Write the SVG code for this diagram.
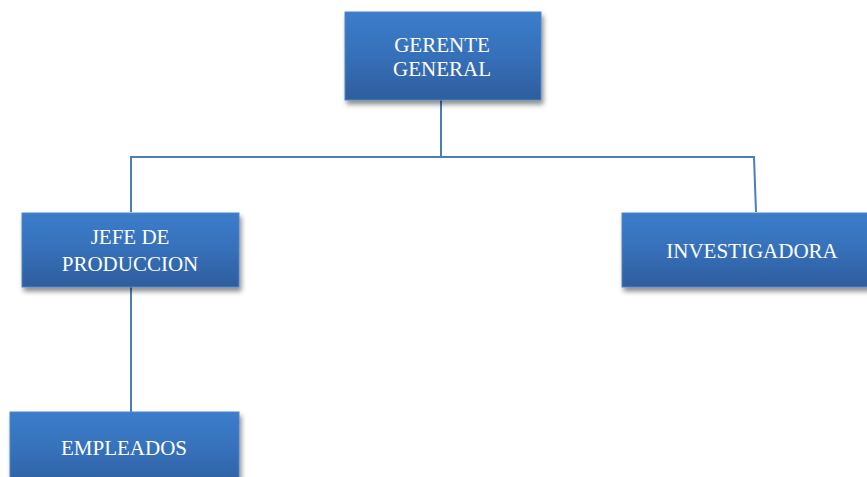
<svg xmlns="http://www.w3.org/2000/svg" width="867" height="477" viewBox="0 0 867 477">
  <defs>
    <linearGradient id="boxFill" x1="0" y1="0" x2="0" y2="1">
      <stop offset="0" stop-color="#3b7dcb"/>
      <stop offset="0.5" stop-color="#3670b9"/>
      <stop offset="1" stop-color="#2e5d9d"/>
    </linearGradient>
    <filter id="shadow" x="-10%" y="-10%" width="130%" height="140%">
      <feGaussianBlur in="SourceAlpha" stdDeviation="2.5"/>
      <feOffset dx="2" dy="4" result="b"/>
      <feComponentTransfer><feFuncA type="linear" slope="0.45"/></feComponentTransfer>
      <feMerge><feMergeNode/><feMergeNode in="SourceGraphic"/></feMerge>
    </filter>
  </defs>
  <style>
    .box { fill: url(#boxFill); stroke: #4f86c6; stroke-width: 1; filter: url(#shadow); }
    .label { font-family: "Liberation Serif", "Times New Roman", serif; font-size: 21px; fill: #ffffff; text-anchor: middle; }
    .link { fill: none; stroke: #4a7ebb; stroke-width: 2; }
  </style>
  <rect width="867" height="477" fill="#ffffff"/>

  <g id="connectors">
    <path class="link" d="M441 100 V157"/>
    <path class="link" d="M131 212 V157 H754 L756 212"/>
    <path class="link" d="M131 287 V412"/>
  </g>

  <g id="gerente-general">
    <rect class="box" x="345" y="12" width="196" height="88"/>
    <text class="label" x="442" y="52">GERENTE</text>
    <text class="label" x="442" y="76">GENERAL</text>
  </g>

  <g id="jefe-de-produccion">
    <rect class="box" x="22" y="213" width="217" height="74"/>
    <text class="label" x="130" y="244">JEFE DE</text>
    <text class="label" x="130" y="271">PRODUCCION</text>
  </g>

  <g id="investigadora">
    <rect class="box" x="622" y="213" width="260" height="74"/>
    <text class="label" x="752" y="258">INVESTIGADORA</text>
  </g>

  <g id="empleados">
    <rect class="box" x="10" y="412" width="229" height="80"/>
    <text class="label" x="124" y="455">EMPLEADOS</text>
  </g>
</svg>
